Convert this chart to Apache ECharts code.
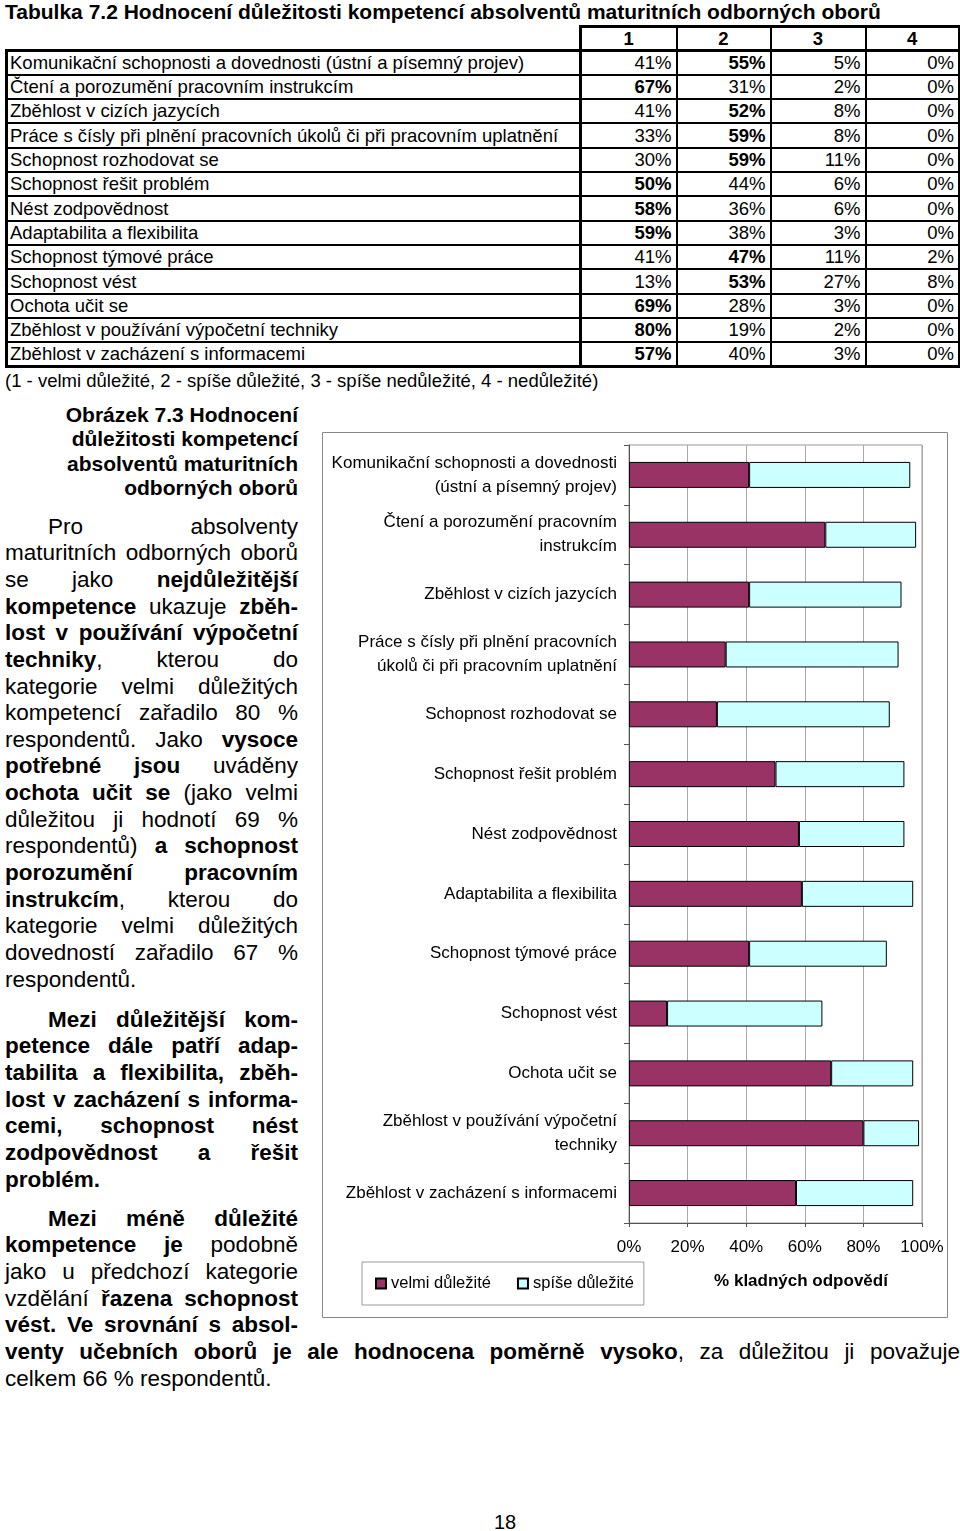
<!DOCTYPE html>
<html><head><meta charset="utf-8">
<script src="https://cdn.jsdelivr.net/npm/echarts@6/dist/echarts.min.js"></script>
<style>
html,body{margin:0;padding:0;background:#fff;}
body{width:960px;height:1531px;position:relative;overflow:hidden;font-family:"Liberation Sans",Arial,sans-serif;color:#000;}
.abs{position:absolute;}
#title{left:5px;top:0;font-size:21px;font-weight:bold;line-height:24px;white-space:nowrap;}
#tbl{left:5px;top:25px;}
table{border-collapse:collapse;table-layout:fixed;width:953px;border:none;font-size:18.5px;}
td,th{border:2px solid #000;padding:0 4px;height:20px;line-height:20px;white-space:nowrap;overflow:hidden;}
td.lab{padding-left:2px;border-left:3px solid #000;border-right:3px solid #000;}
td.last{border-right:3px solid #000;}
tr.lr td{border-bottom:3px solid #000;}
th{font-weight:bold;text-align:center;border-top:3px solid #000;border-bottom:3px solid #000;}
th.lastc{border-right:3px solid #000;}
th.first{border-left:3px solid #000;}
td.n{text-align:right;}
td.b{font-weight:bold;}
th.e{border-top:none;border-left:none;border-right:3px solid #000;}
#foot{left:5px;top:369px;font-size:18.5px;line-height:24px;white-space:nowrap;}
#cap{left:5px;top:402.7px;width:293px;font-size:21px;font-weight:bold;line-height:24.6px;text-align:right;}
.par{position:absolute;left:5px;width:293px;font-size:22.5px;line-height:26.65px;}
.par div{height:26.65px;white-space:nowrap;}
.j{text-align:justify;text-align-last:justify;white-space:normal !important;}
.l{text-align:left;}
.ind{text-indent:43px;}
.wide{width:955px;}
#pg{left:485px;width:40px;top:1509px;text-align:center;font-size:20px;line-height:26px;}
#chart{left:322px;top:432px;width:626px;height:886px;}
</style></head>
<body>
<div id="title" class="abs">Tabulka 7.2 Hodnocení důležitosti kompetencí absolventů maturitních odborných oborů</div>
<div id="tbl" class="abs"></div>
<div id="foot" class="abs">(1 - velmi důležité, 2 - spíše důležité, 3 - spíše nedůležité, 4 - nedůležité)</div>
<div id="cap" class="abs">Obrázek 7.3 Hodnocení<br>důležitosti kompetencí<br>absolventů maturitních<br>odborných oborů</div>

<div class="par" style="top:513.7px">
<div class="j ind">Pro absolventy</div>
<div class="j">maturitních odborných oborů</div>
<div class="j">se jako <b>nejdůležitější</b></div>
<div class="j"><b>kompetence</b> ukazuje <b>zběh-</b></div>
<div class="j"><b>lost v používání výpočetní</b></div>
<div class="j"><b>techniky</b>, kterou do</div>
<div class="j">kategorie velmi důležitých</div>
<div class="j">kompetencí zařadilo 80 %</div>
<div class="j">respondentů. Jako <b>vysoce</b></div>
<div class="j"><b>potřebné jsou</b> uváděny</div>
<div class="j"><b>ochota učit se</b> (jako velmi</div>
<div class="j">důležitou ji hodnotí 69 %</div>
<div class="j">respondentů) <b>a schopnost</b></div>
<div class="j"><b>porozumění pracovním</b></div>
<div class="j"><b>instrukcím</b>, kterou do</div>
<div class="j">kategorie velmi důležitých</div>
<div class="j">dovedností zařadilo 67 %</div>
<div class="l">respondentů.</div>
</div>

<div class="par" style="top:1006.7px;font-weight:bold">
<div class="j ind">Mezi důležitější kom-</div>
<div class="j">petence dále patří adap-</div>
<div class="j">tabilita a flexibilita, zběh-</div>
<div class="j">lost v zacházení s informa-</div>
<div class="j">cemi, schopnost nést</div>
<div class="j">zodpovědnost a řešit</div>
<div class="l">problém.</div>
</div>

<div class="par" style="top:1205.7px">
<div class="j ind"><b>Mezi méně důležité</b></div>
<div class="j"><b>kompetence je</b> podobně</div>
<div class="j">jako u předchozí kategorie</div>
<div class="j">vzdělání <b>řazena schopnost</b></div>
<div class="j"><b>vést. Ve srovnání s absol-</b></div>
<div class="j wide"><b>venty učebních oborů je ale hodnocena poměrně vysoko</b>, za důležitou ji považuje</div>
<div class="l wide">celkem 66 % respondentů.</div>
</div>

<div id="pg" class="abs">18</div>
<div id="chart" class="abs"></div>

<script>
const categories = [
  'Komunikační schopnosti a dovednosti (ústní a písemný projev)',
  'Čtení a porozumění pracovním instrukcím',
  'Zběhlost v cizích jazycích',
  'Práce s čísly při plnění pracovních úkolů či při pracovním uplatnění',
  'Schopnost rozhodovat se',
  'Schopnost řešit problém',
  'Nést zodpovědnost',
  'Adaptabilita a flexibilita',
  'Schopnost týmové práce',
  'Schopnost vést',
  'Ochota učit se',
  'Zběhlost v používání výpočetní techniky',
  'Zběhlost v zacházení s informacemi'
];
const chartLabels = [
  'Komunikační schopnosti a dovednosti\n(ústní a písemný projev)',
  'Čtení a porozumění pracovním\ninstrukcím',
  'Zběhlost v cizích jazycích',
  'Práce s čísly při plnění pracovních\núkolů či při pracovním uplatnění',
  'Schopnost rozhodovat se',
  'Schopnost řešit problém',
  'Nést zodpovědnost',
  'Adaptabilita a flexibilita',
  'Schopnost týmové práce',
  'Schopnost vést',
  'Ochota učit se',
  'Zběhlost v používání výpočetní\ntechniky',
  'Zběhlost v zacházení s informacemi'
];
const columnHeaders = ['1', '2', '3', '4'];
const v1 = [41, 67, 41, 33, 30, 50, 58, 59, 41, 13, 69, 80, 57];
const v2 = [55, 31, 52, 59, 59, 44, 36, 38, 47, 53, 28, 19, 40];
const v3 = [5, 2, 8, 8, 11, 6, 6, 3, 11, 27, 3, 2, 3];
const v4 = [0, 0, 0, 0, 0, 0, 0, 0, 2, 8, 0, 0, 0];
const seriesNames = ['velmi důležité', 'spíše důležité'];
const axisTitle = '% kladných odpovědí';

// table
(function(){
  const cols = [v1, v2, v3, v4];
  let h = '<table><colgroup><col style="width:574px"><col style="width:96px"><col style="width:94px"><col style="width:95px"><col style="width:94px"></colgroup>';
  h += '<tr style="height:24px"><th class="e"></th>' + columnHeaders.map((c, k) => '<th class="' + (k === 0 ? 'first' : '') + (k === columnHeaders.length - 1 ? ' lastc' : '') + '">' + c + '</th>').join('') + '</tr>';
  categories.forEach((c, i) => {
    const vals = cols.map(a => a[i]);
    const mx = Math.max(...vals);
    h += '<tr style="height:24.33px"' + (i === categories.length - 1 ? ' class="lr"' : '') + '><td class="lab">' + c + '</td>' +
      vals.map((v, k) => '<td class="n' + (v === mx ? ' b' : '') + (k === vals.length - 1 ? ' last' : '') + '">' + v + '%</td>').join('') + '</tr>';
  });
  h += '</table>';
  document.getElementById('tbl').innerHTML = h;
})();

const chart = echarts.init(document.getElementById('chart'), null, {renderer: 'canvas'});
const FF = '"Liberation Sans", Arial, sans-serif';
chart.setOption({
  animation: false,
  textStyle: {fontFamily: FF},
  grid: {left: 307, right: 26, top: 13, bottom: 95, show: true, borderColor: '#999', borderWidth: 1, containLabel: false, outerBoundsMode: 'none'},
  xAxis: {
    type: 'value', min: 0, max: 100, interval: 20,
    axisLine: {show: true, lineStyle: {color: '#555', width: 1}},
    axisTick: {show: true, length: 4, lineStyle: {color: '#555'}},
    splitLine: {show: true, lineStyle: {color: '#aaa', width: 1}},
    axisLabel: {formatter: '{value}%', fontSize: 17, color: '#000', margin: 16, fontFamily: FF}
  },
  yAxis: {
    type: 'category', inverse: true, data: chartLabels,
    axisLine: {show: true, lineStyle: {color: '#555', width: 1}},
    axisTick: {show: true, length: 5, lineStyle: {color: '#555'}},
    splitLine: {show: false},
    axisLabel: {fontSize: 17, color: '#000', lineHeight: 24, margin: 12, align: 'right', fontFamily: FF}
  },
  legend: {
    left: 40, top: 830, orient: 'horizontal', icon: 'rect',
    itemWidth: 10, itemHeight: 10, itemGap: 26,
    padding: [13, 10, 13, 13],
    borderColor: '#999', borderWidth: 1, borderRadius: 0,
    textStyle: {fontSize: 16.5, color: '#000', fontFamily: FF},
    data: seriesNames
  },
  series: [
    {type: 'bar', name: seriesNames[0], stack: 'a', data: v1, barWidth: 26,
     itemStyle: {color: '#993366', borderColor: '#000', borderWidth: 1}},
    {type: 'bar', name: seriesNames[1], stack: 'a', data: v2, barWidth: 26,
     itemStyle: {color: '#CCFFFF', borderColor: '#000', borderWidth: 1}}
  ],
  graphic: [
    {type: 'rect', silent: true, shape: {x: 0.5, y: 0.5, width: 625, height: 885}, style: {fill: 'none', stroke: '#888', lineWidth: 1}},
    {type: 'text', silent: true, x: 479, y: 849, style: {text: axisTitle, font: 'bold 17px ' + FF, textAlign: 'center', textVerticalAlign: 'middle', fill: '#000'}}
  ]
});
</script>
</body></html>
